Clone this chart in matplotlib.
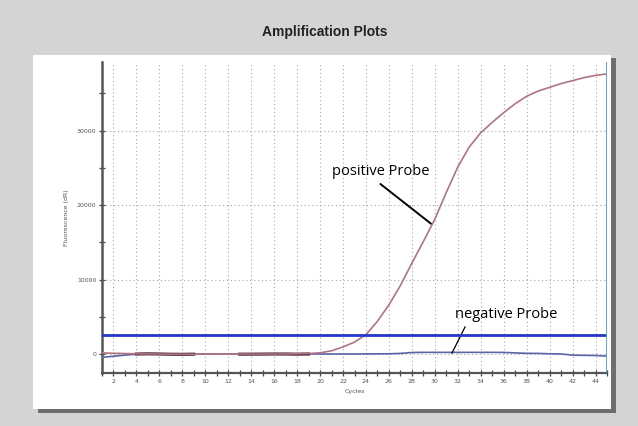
import numpy as np
import matplotlib
matplotlib.use("Agg")
import matplotlib.pyplot as plt
from matplotlib.patches import Rectangle

cycles = np.arange(1, 46)
positive = [150, 100, 60, 30, 10, 0, -20, -30, -20, 0, 20, 10, 0, -10, -10, 0, 10, 20,
            60, 160, 430, 950, 1600, 2600, 4400, 6600, 9200, 12200, 15100, 18100,
            21700, 25100, 27800, 29700, 31100, 32400, 33600, 34600, 35300, 35800,
            36300, 36700, 37100, 37400, 37600]
negative = [-450, -300, -150, -30, 0, 0, -20, -30, -20, 0, 20, 20, 10, 0, 0, 10, 20, 20,
            10, 0, 0, 0, 0, 10, 20, 30, 80, 200, 220, 220, 220, 220, 220, 220, 220,
            210, 150, 90, 80, 30, 0, -150, -180, -200, -280]
dark = [np.nan, np.nan, np.nan, 0, 20, 0, -30, -40, -20, np.nan, np.nan, np.nan,
        -20, -20, -10, 0, 0, -20, 0, np.nan] + [np.nan] * 25
threshold = 2500

W, H = 638, 426
fig = plt.figure(figsize=(W / 100, H / 100), dpi=100, facecolor="#d4d4d4")


def fx(px):
    return px / W


def fy(py):
    return 1 - py / H


# panel with drop shadow
fig.patches.append(Rectangle((fx(38), fy(413)), fx(616) - fx(38), fy(58) - fy(413),
                             transform=fig.transFigure, facecolor="#6e6e6e",
                             edgecolor="none", zorder=-2))
fig.patches.append(Rectangle((fx(33), fy(409)), fx(611) - fx(33), fy(55) - fy(409),
                             transform=fig.transFigure, facecolor="white",
                             edgecolor="none", zorder=-1))

fig.text(fx(325), fy(32), "Amplification Plots", ha="center", va="center",
         fontsize=10, fontweight="bold", family="Liberation Sans", color="#222222")

ax = fig.add_axes([fx(102), fy(373), fx(607) - fx(102), fy(62) - fy(373)])
ax.set_facecolor("none")
ax.set_zorder(1)

ax.plot(cycles, negative, color="#5a64a8", lw=1.2, zorder=3)
ax.plot(cycles, dark, color="#3a1626", lw=2.2, zorder=4)
ax.plot(cycles, positive, color="#b07484", lw=1.2, zorder=5)
ax.axhline(threshold, color="#2636c8", lw=2, zorder=6)
ax.axvline(45, color="#4a9ee0", lw=2, zorder=6)

ax.set_xlim(1, 45)
ax.set_ylim(-2550, 39200)
ax.set_xticks(np.arange(2, 45, 2))
ax.set_xticks(np.arange(1, 46, 1), minor=True)
ax.set_yticks([0, 10000, 20000, 30000])
ax.set_yticks(np.arange(5000, 39000, 10000), minor=True)
ax.grid(True, which="major", linestyle=(0, (1, 2.5)), color="#a8a8a8", lw=0.8)

ax.tick_params(axis="both", which="both", direction="inout", colors="#444444",
               labelsize=4.5, labelcolor="#555555")
ax.tick_params(axis="both", which="major", length=5, width=0.9, pad=1.5)
ax.tick_params(axis="both", which="minor", length=4, width=0.9)

for side in ["top", "right"]:
    ax.spines[side].set_visible(False)
ax.spines["left"].set_color("#555555")
ax.spines["left"].set_linewidth(1.8)
ax.spines["bottom"].set_color("#555555")
ax.spines["bottom"].set_linewidth(1.6)

ax.set_xlabel("Cycles", fontsize=4.5, color="#555555", labelpad=4)
ax.set_ylabel("Fluorescence (dR)", fontsize=4.5, color="#555555", labelpad=6)

ax.text(25.3, 24500, "positive Probe", fontsize=10.5, family="Open Sans",
        color="black", ha="center", va="center")
ax.annotate("", xy=(29.7, 17450), xytext=(25.26, 22820),
            arrowprops=dict(arrowstyle="-", color="black", lw=1.4,
                            shrinkA=0, shrinkB=0))
ax.text(36.2, 5370, "negative Probe", fontsize=10.5, family="Open Sans",
        color="black", ha="center", va="center")
ax.annotate("", xy=(31.48, 90), xytext=(32.64, 3660),
            arrowprops=dict(arrowstyle="-", color="black", lw=0.9,
                            shrinkA=0, shrinkB=0))

fig.savefig("out.png", dpi=100, facecolor=fig.get_facecolor())
